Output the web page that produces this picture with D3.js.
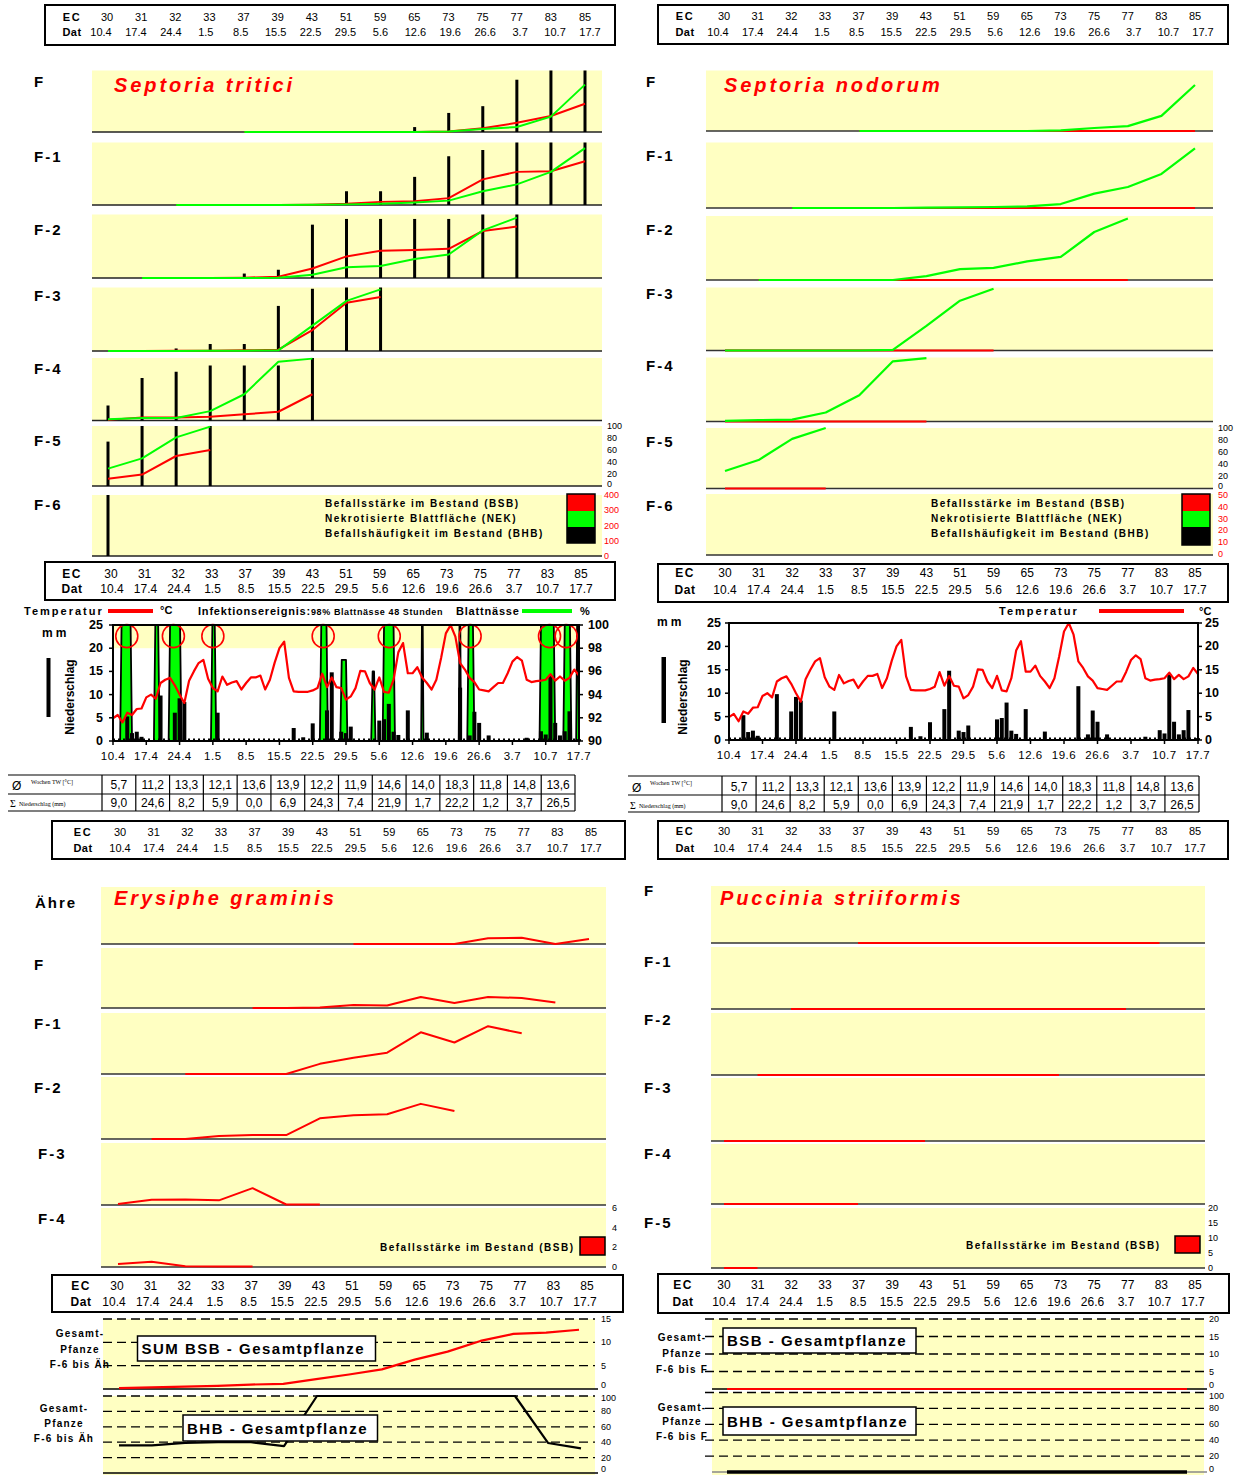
<!DOCTYPE html>
<html><head><meta charset="utf-8">
<script src="https://cdn.jsdelivr.net/npm/d3@7"></script>
<style>body{margin:0;background:#fff}</style>
</head><body>
<script>
// ================= DATA =================
const ecCodes = ["30","31","32","33","37","39","43","51","59","65","73","75","77","83","85"];
const ecDates = ["10.4","17.4","24.4","1.5","8.5","15.5","22.5","29.5","5.6","12.6","19.6","26.6","3.7","10.7","17.7"];
const n = null;

// Septoria tritici: BSB (red), NEK (green), BHB (black bars), % per leaf
const stLeaves = ["F","F-1","F-2","F-3","F-4","F-5","F-6"];
const stBSB = [
  [n,n,n,n,0,0,0,0,0,0,1,6,15,26,46],
  [n,n,0,0,0,0,0.5,2,5,6,11,41,53,54,70],
  [n,0,0,0,0.5,2,15,34,43,44,46,74,81,n,n],
  [0,0,0.5,0.5,1,2,33,76,85,n,n,n,n,n,n],
  [1,5,5,6,10,14,42,n,n,n,n,n,n,n,n],
  [12,19,50,60,n,n,n,n,n,n,n,n,n,n,n],
  [0,n,n,n,n,n,n,n,n,n,n,n,n,n,n]
];
const stNEK = [
  [n,n,n,n,0,0,0,0,0,0,1,5,8,25,77],
  [n,n,0,0,0,0,0.5,1,2,4,7,22,33,53,91],
  [n,0,0,0,0,0.5,5,17,19,30,37,75,95,n,n],
  [0,0,0,0.5,0.5,1,40,79,97,n,n,n,n,n,n],
  [2,4,4,15,42,94,99,n,n,n,n,n,n,n,n],
  [29,46,81,99,n,n,n,n,n,n,n,n,n,n,n],
  [0,n,n,n,n,n,n,n,n,n,n,n,n,n,n]
];
const stBHB = [
  [n,n,n,n,0,0,0,0,0,8,31,42,85,100,100],
  [n,n,0,0,0,0,0,22,22,45,78,88,100,100,100],
  [n,0,0,0,7,13,84,93,93,93,93,100,100,n,n],
  [0,0,4,11,11,71,98,100,100,n,n,n,n,n,n],
  [24,68,78,88,88,88,100,n,n,n,n,n,n,n,n],
  [74,100,100,100,n,n,n,n,n,n,n,n,n,n,n],
  [100,n,n,n,n,n,n,n,n,n,n,n,n,n,n]
];

// Septoria nodorum
const snLeaves = ["F","F-1","F-2","F-3","F-4","F-5","F-6"];
const snBSB = [
  [n,n,n,n,0,0,0,0,0,0,0,0,0,0,0],
  [n,n,0,0,0,0,0,0,0,0,0,0,0,0,0],
  [n,0,0,0,0,0,0,0,0,0,0,0,0,n,n],
  [0,0,0,0,0,0,0,0,0,n,n,n,n,n,n],
  [0,0,0,0,0,0,0,n,n,n,n,n,n,n,n],
  [0,0,0,0,n,n,n,n,n,n,n,n,n,n,n],
  [n,n,n,n,n,n,n,n,n,n,n,n,n,n,n]
];
const snNEK = [
  [n,n,n,n,0,0,0,0,0,0,1,5,8,25,76],
  [n,n,0,0,0,0,0.5,1,1.5,2.5,6,22,32,52,91],
  [n,0,0,0,0,0,6,17,19,29,36,75,96,n,n],
  [0,0,0,0,0,1,39,79,98,n,n,n,n,n,n],
  [1,2,3,14,41,94,99,n,n,n,n,n,n,n,n],
  [29,47,82,100,n,n,n,n,n,n,n,n,n,n,n],
  [n,n,n,n,n,n,n,n,n,n,n,n,n,n,n]
];

// Weather (daily 10.4 - 17.7)
const tempDaily = [4.9,5.6,4.0,6.1,5.6,6.9,7.0,9.4,10.0,9.1,12.5,13.2,13.6,12.0,10.0,8.2,13.0,15.0,16.8,17.5,
  13.4,11.4,10.7,13.9,12.1,12.6,12.9,11.1,12.5,13.7,13.7,14.1,11.1,13.2,16.9,20.0,21.4,13.6,10.7,10.6,
  10.6,10.6,10.9,11.4,14.5,11.6,13.7,11.6,11.4,8.9,9.6,11.4,15.1,15.0,12.5,11.1,13.7,10.6,10.4,13.2,
  19.1,21.1,14.6,14.6,15.9,13.7,12.5,11.1,13.2,17.9,23.2,25.0,22.5,16.8,15.4,13.6,12.7,11.1,10.9,10.7,
  11.6,12.5,12.5,14.6,17.1,18.1,17.3,13.2,12.7,12.9,13.0,13.2,14.4,13.0,13.9,13.0,13.6,15.4,14.1];
const rainDay = [3,4,5,6,10,13,14,15,22,38,40,42,45,46,48,49,50,56,57,58,59,60,62,66,73,75,76,77,79,87,90,91,92,93,94,95,96,98];
const rainMm  = [5.3,1.7,2.0,0.9,9.8,6.1,9.2,8.4,6.1,2.8,0.8,3.8,6.6,14.8,2.0,1.7,3.1,4.4,4.7,8.0,2.0,1.3,6.6,1.8,11.5,1.2,6.3,3.9,1.2,0.7,2.1,1.4,14.0,3.9,1.2,2.1,6.4,0.4];
const wetStart = [1.5,8.6,11.7,20.6,43.5,47.8,54.3,56.7,64.8,72.7,74.5,89.7,94.7,97.4];
const wetEnd   = [4.0,9.8,14.4,21.7,45.2,49.3,55.2,59.3,65.3,73.2,76.0,93.0,96.4,98.0];
const wetPeak  = [100,100,100,100,100,97,96,100,100,100,100,100,100,100];
const infectDays = [2.9,12.7,21.0,44.2,58.1,75.1,91.8,95.3];
const weekTemp = [5.7,11.2,13.3,12.1,13.6,13.9,12.2,11.9,14.6,14.0,18.3,11.8,14.8,13.6];
const weekRain = [9.0,24.6,8.2,5.9,0.0,6.9,24.3,7.4,21.9,1.7,22.2,1.2,3.7,26.5];

// Erysiphe graminis BSB
const egLeaves = ["Ähre","F","F-1","F-2","F-3","F-4"];
const egBSB = [
  [n,n,n,n,n,n,n,0,0,0,0,0.6,0.66,0,0.53],
  [n,n,n,n,0,0,0.05,0.3,0.25,1.1,0.5,1.1,1.0,0.55,n],
  [n,n,0,0,0,0,1.0,1.6,2.1,4.1,3.1,4.7,4.0,n,n],
  [n,0,0,0.3,0.38,0.38,2.0,2.3,2.4,3.4,2.7,n,n,n,n],
  [0.1,0.5,0.54,0.45,1.63,0.05,0.05,n,n,n,n,n,n,n,n],
  [0.3,0.54,0.07,0.05,0.05,n,n,n,n,n,n,n,n,n,n]
];
// Puccinia striiformis BSB
const psLeaves = ["F","F-1","F-2","F-3","F-4","F-5"];
const psBSB = [
  [n,n,n,n,0,0,0,0,0,0,0,0,0,0,n],
  [n,n,0,0,0,0,0,0,0,0,0,0,0,n,n],
  [n,0,0,0,0,0,0,0,0,0,0,n,n,n,n],
  [0,0,0,0,0,0,0,n,n,n,n,n,n,n,n],
  [0,0,0,0,0,n,n,n,n,n,n,n,n,n,n],
  [0,0,n,n,n,n,n,n,n,n,n,n,n,n,n]
];
// Whole plant totals
const egSumBSB = [0.2,0.35,0.5,0.65,0.95,1.1,2.1,3.1,4.2,6.3,8.0,10.3,11.8,12.1,12.7];
const egBHB    = [36,36,39,40,40,35,100,100,100,100,100,100,100,39,32];
const psSumBSB = [0,0,0,0,0,0,0,0,0,0,0,0,0,0,0];
const psBHB    = [0,0,0,0,0,0,0,0,0,0,0,0,0,0,0];

// ================= DRAW =================
const FONT = "'Liberation Sans', Arial, Helvetica, sans-serif";
const SERIF = "'Liberation Serif', 'Times New Roman', serif";
const YEL = "#FFFFC2", RED = "#FF0000", GRN = "#00FF00";
const W = 1239, H = 1475;
const svg = d3.select("body").append("svg").attr("width", W).attr("height", H);
svg.append("rect").attr("width", W).attr("height", H).attr("fill", "#fff");

function T(x, y, s, o = {}) {
  const t = svg.append("text").attr("x", x).attr("y", y).text(s)
    .attr("font-family", o.font || FONT).attr("font-size", o.size || 11)
    .attr("font-weight", o.bold ? "bold" : "normal")
    .attr("fill", o.fill || "#000").attr("text-anchor", o.anchor || "start")
    .attr("dominant-baseline", "central");
  if (o.italic) t.attr("font-style", "italic");
  if (o.ls) t.attr("letter-spacing", o.ls);
  if (o.rotate) t.attr("transform", `rotate(${o.rotate},${x},${y})`);
  return t;
}
function L(x1, y1, x2, y2, c = "#000", w = 1, dash) {
  const l = svg.append("line").attr("x1", x1).attr("y1", y1).attr("x2", x2).attr("y2", y2)
    .attr("stroke", c).attr("stroke-width", w);
  if (dash) l.attr("stroke-dasharray", dash);
  return l;
}
function R(x, y, w, h, fill, stroke, sw) {
  const r = svg.append("rect").attr("x", x).attr("y", y).attr("width", w).attr("height", h)
    .attr("fill", fill || "none");
  if (stroke) r.attr("stroke", stroke).attr("stroke-width", sw || 1);
  return r;
}
function ecTable(box, cr, dr, ry, lx, fs) {
  R(box[0], box[1], box[2] - box[0], box[3] - box[1], "none", "#000", 2);
  const sc = d3.scalePoint().domain(ecCodes).range(cr);
  const sd = d3.scalePoint().domain(ecDates).range(dr);
  T(lx, ry[0], "EC", {bold: true, size: fs, anchor: "middle", ls: 1.5});
  T(lx, ry[1], "Dat", {bold: true, size: fs, anchor: "middle", ls: 0.5});
  ecCodes.forEach(c => T(sc(c), ry[0], c, {size: fs, anchor: "middle"}));
  ecDates.forEach(d => T(sd(d), ry[1], d, {size: fs, anchor: "middle"}));
}
function seriesLine(xs, ys, vals, color, w = 2) {
  const line = d3.line().defined(d => d[1] != null).x(d => xs(d[0])).y(d => ys(d[1]));
  svg.append("path").datum(ecCodes.map((c, i) => [c, vals[i]])).attr("d", line)
    .attr("fill", "none").attr("stroke", color).attr("stroke-width", w).attr("stroke-linejoin", "round");
}
function bars(xs, ys, vals) {
  svg.selectAll(null).data(ecCodes.map((c, i) => [c, vals[i]]).filter(d => d[1] != null && d[1] > 0))
    .enter().append("rect")
    .attr("x", d => xs(d[0]) - 1.5).attr("width", 3)
    .attr("y", d => ys(d[1])).attr("height", d => ys(0) - ys(d[1])).attr("fill", "#000");
}
function title(x, y, s) { T(x, y, s, {bold: true, italic: true, size: 20, fill: RED, ls: 2.9}); }

// ---------- EC tables ----------
ecTable([45, 5, 615, 45], [107, 585], [101, 590], [17, 32], 72, 11);
ecTable([658, 5, 1228, 44], [724, 1195], [718, 1203], [16, 32], 685, 11);
ecTable([45, 562, 615, 600], [111, 581], [112, 581], [574, 589], 72, 12);
ecTable([658, 564, 1228, 602], [725, 1195], [725, 1195], [573, 590], 685, 12);
ecTable([52, 821, 625, 859], [120, 591], [120, 591], [832, 848], 83, 11);
ecTable([658, 821, 1228, 859], [724, 1195], [724, 1195], [831, 848], 685, 11);
ecTable([52, 1275, 623, 1312], [117, 587], [114, 585], [1286, 1302], 81, 12);
ecTable([658, 1274, 1229, 1313], [724, 1195], [724, 1193], [1285, 1302], 683, 12);

// ---------- Septoria tritici ----------
const stPanelY = [[70.5,132],[142.5,205],[214.5,278],[287.5,351],[358,420.5],[426,486],[495,556]];
const stLabelY = [81,156,229,295,368,440,504];
const stX = d3.scalePoint().domain(ecCodes).range([108, 585]);
let stYs = [];
stLeaves.forEach((lf, k) => {
  const [y0, y1] = stPanelY[k];
  R(92, y0, 510, y1 - y0, YEL);
  const ys = d3.scaleLinear().domain([0, 100]).range([y1, y0]);
  stYs.push(ys);
  L(92, y1, 602, y1, "#222", 1.5);
  T(34, stLabelY[k], lf, {bold: true, size: 15, ls: 2});
  bars(stX, ys, stBHB[k]);
  seriesLine(stX, ys, stBSB[k], RED);
  seriesLine(stX, ys, stNEK[k], GRN);
});
title(114, 85, "Septoria tritici");
[0,20,40,60,80,100].forEach(v => T(607, stYs[5](v) - (v === 0 ? 2 : 0), v, {size: 9}));
const stRed = d3.scaleLinear().domain([0, 400]).range([556, 495]);
[0,100,200,300,400].forEach(v => T(604, stRed(v), v, {size: 9, fill: RED}));
const legTxt = ["Befallsstärke im Bestand (BSB)", "Nekrotisierte Blattfläche (NEK)", "Befallshäufigkeit im Bestand (BHB)"];
legTxt.forEach((s, i) => T(325, 503 + i * 15, s, {bold: true, size: 10, ls: 1.5}));
R(567, 494, 28, 17, RED); R(567, 511, 28, 16, GRN); R(567, 527, 28, 16, "#000");
R(567, 494, 28, 49, "none", "#000", 1.5);

// ---------- Septoria nodorum ----------
const snPanelY = [[70.5,131],[142.5,208],[216,280],[287.5,350.5],[357.5,421.5],[428,488.5],[494,555]];
const snLabelY = [81,155,229,293,365,441,505];
const snX = d3.scalePoint().domain(ecCodes).range([725, 1195]);
let snYs = [];
snLeaves.forEach((lf, k) => {
  const [y0, y1] = snPanelY[k];
  R(706, y0, 507, y1 - y0, YEL);
  const ys = d3.scaleLinear().domain([0, 100]).range([y1, y0]);
  snYs.push(ys);
  L(706, y1, 1213, y1, "#333", 1.5);
  T(646, snLabelY[k], lf, {bold: true, size: 15, ls: 2});
  seriesLine(snX, ys, snBSB[k], RED, 2.2);
  seriesLine(snX, ys, snNEK[k], GRN, 2.2);
});
title(724, 85, "Septoria nodorum");
[0,20,40,60,80,100].forEach(v => T(1218, snYs[5](v) - (v === 0 ? 3 : 0), v, {size: 9}));
const snRed = d3.scaleLinear().domain([0, 50]).range([554, 495]);
[0,10,20,30,40,50].forEach(v => T(1218, snRed(v), v, {size: 9, fill: RED}));
legTxt.forEach((s, i) => T(931, 503 + i * 15, s, {bold: true, size: 10, ls: 1.5}));
R(1182, 494, 28, 17, RED); R(1182, 511, 28, 16, GRN); R(1182, 527, 28, 18, "#000");
R(1182, 494, 28, 51, "none", "#000", 1.5);

// ---------- Weather charts ----------
function weather(o) {
  const xd = d3.scaleLinear().domain([0, 98]).range([o.x0, o.x1]);
  const ym = d3.scaleLinear().domain([0, 25]).range([o.y1, o.y0]);
  if (o.wet) {
    R(o.x0, ym(25), o.x1 - o.x0, ym(20) - ym(25), YEL);
    const yw = d3.scaleLinear().domain([90, 100]).range([o.y1, o.y0]);
    wetStart.forEach((s, i) => {
      const e = wetEnd[i], p = wetPeak[i], dd = Math.min(0.3, (e - s) / 3);
      const pts = [[s, 90], [s + dd, p], [e - dd, p], [e, 90]];
      svg.append("polygon").attr("points", pts.map(q => [xd(q[0]), yw(q[1])].join(",")).join(" "))
        .attr("fill", GRN).attr("stroke", "#000").attr("stroke-width", 1.8).attr("stroke-linejoin", "round");
    });
  }
  L(o.x0, o.y1 - 1.5, o.x1, o.y1 - 1.5, "#000", 2, "2,3");
  svg.selectAll(null).data(rainDay).enter().append("rect")
    .attr("x", d => xd(d) - 2).attr("width", 4)
    .attr("y", (d, i) => ym(rainMm[i])).attr("height", (d, i) => o.y1 - ym(rainMm[i])).attr("fill", "#000");
  svg.append("path").datum(tempDaily)
    .attr("d", d3.line().x((d, i) => xd(i)).y(d => ym(d)))
    .attr("fill", "none").attr("stroke", RED).attr("stroke-width", 2.2).attr("stroke-linejoin", "round");
  if (o.wet) {
    svg.selectAll(null).data(infectDays).enter().append("ellipse")
      .attr("cx", d => xd(d)).attr("cy", ym(22.6)).attr("rx", 11).attr("ry", 11.5)
      .attr("fill", "none").attr("stroke", RED).attr("stroke-width", 1.6);
  }
  R(o.x0, o.y0, o.x1 - o.x0, o.y1 - o.y0, "none", "#000", 2);
  [0,5,10,15,20,25].forEach(v => {
    L(o.x0 - 4, ym(v), o.x0, ym(v), "#000", 1.5);
    T(o.x0 - o.lOff, ym(v), v, {bold: true, size: 12.5, anchor: "end"});
  });
  const yr = d3.scaleLinear().domain(o.rDom).range([o.y1, o.y0]);
  o.rTicks.forEach(v => {
    L(o.x1, yr(v), o.x1 + 4, yr(v), "#000", 1.5);
    T(o.x1 + o.rOff, yr(v), v, {bold: true, size: 12.5});
  });
  ecDates.forEach((d, i) => {
    L(xd(i * 7), o.y1, xd(i * 7), o.y1 + 4, "#000", 1.5);
    T(xd(i * 7), o.y1 + 15, d, {size: 11.5, anchor: "middle", ls: 0.5});
  });
}
weather({x0: 113, x1: 579, y0: 625, y1: 741, wet: true, lOff: 10, rOff: 9, rDom: [90, 100], rTicks: [90,92,94,96,98,100]});
weather({x0: 729, x1: 1198, y0: 623, y1: 740, wet: false, lOff: 8, rOff: 7, rDom: [0, 25], rTicks: [0,5,10,15,20,25]});

// weather legends & labels
T(24, 611, "Temperatur", {bold: true, size: 11, ls: 2});
L(108, 611, 153, 611, RED, 4);
T(160, 610, "°C", {bold: true, size: 11});
T(198, 611, "Infektionsereignis:", {bold: true, size: 11, ls: 0.8});
T(311, 612, "98% Blattnässe 48 Stunden", {bold: true, size: 9, ls: 0.6});
T(456, 611, "Blattnässe", {bold: true, size: 11, ls: 0.8});
L(522, 611, 572, 611, GRN, 4);
T(580, 611, "%", {bold: true, size: 11});
T(42, 633, "mm", {bold: true, size: 12, ls: 3});
T(70, 697, "Niederschlag", {bold: true, size: 12, anchor: "middle", rotate: -90});
R(46.5, 658, 4, 59, "#000");

T(999, 611, "Temperatur", {bold: true, size: 11, ls: 2});
L(1099, 611, 1184, 611, RED, 4);
T(1199, 611, "°C", {bold: true, size: 11});
T(657, 622, "mm", {bold: true, size: 12, ls: 3});
T(683, 697, "Niederschlag", {bold: true, size: 12, anchor: "middle", rotate: -90});
R(661.5, 657, 4.5, 66, "#000");

// weekly tables
function weekTable(x0, xc, x1, yt, ymid, yb, r1, r2, sx) {
  L(x0, yt, x1, yt, "#000", 1.2); L(x0, ymid, x1, ymid, "#000", 1.2); L(x0, yb, x1, yb, "#000", 1.2);
  const cw = (x1 - xc) / 14;
  for (let i = 0; i <= 14; i++) L(xc + i * cw, yt, xc + i * cw, yb, "#000", 1.2);
  const fmt = v => v.toFixed(1).replace(".", ",");
  weekTemp.forEach((v, i) => T(xc + (i + 0.5) * cw, r1, fmt(v), {size: 12, anchor: "middle"}));
  weekRain.forEach((v, i) => T(xc + (i + 0.5) * cw, r2, fmt(v), {size: 12, anchor: "middle"}));
  T(x0 + 4, r1 + 1, "Ø", {size: 12});
  T(x0 + sx, yt + 7, "Wochen TW [°C]", {size: 6, font: SERIF});
  T(x0 + 2, r2, "Σ", {size: 10, font: SERIF});
  T(x0 + 11, r2 + 1, "Niederschlag (mm)", {size: 6, font: SERIF});
}
weekTable(8, 102, 575, 775, 794, 811, 785, 803, 23);
weekTable(628, 722, 1199, 776, 795, 812, 787, 805, 22);

// ---------- Erysiphe graminis ----------
const egPanelY = [[887,944],[948,1008],[1013,1074],[1077,1139],[1143,1205],[1208,1267]];
const egLabelY = [902,964,1023,1087,1153,1218];
const egX = d3.scalePoint().domain(ecCodes).range([118, 589]);
let egYs = [];
egLeaves.forEach((lf, k) => {
  const [y0, y1] = egPanelY[k];
  R(101, y0, 505, y1 - y0, YEL);
  const ys = d3.scaleLinear().domain([0, 6]).range([y1, y0]);
  egYs.push(ys);
  L(101, y1, 606, y1, "#333", 1.5);
  T(k === 0 ? 35 : (k >= 4 ? 38 : 34), egLabelY[k], lf, {bold: true, size: 15, ls: 2});
  seriesLine(egX, ys, egBSB[k], RED, 2);
});
title(114, 898, "Erysiphe graminis");
[0,2,4,6].forEach(v => T(612, egYs[5](v), v, {size: 9}));
T(380, 1247, "Befallsstärke im Bestand (BSB)", {bold: true, size: 10, ls: 1.5});
R(580, 1237, 25, 18, RED, "#000", 1.5);

// ---------- Puccinia striiformis ----------
const psPanelY = [[886,943],[947,1009],[1013,1075],[1078,1141],[1144,1204],[1208,1268]];
const psLabelY = [890,961,1019,1087,1153,1222];
const psX = d3.scalePoint().domain(ecCodes).range([724, 1193]);
let psYs = [];
psLeaves.forEach((lf, k) => {
  const [y0, y1] = psPanelY[k];
  R(711, y0, 494, y1 - y0, YEL);
  const ys = d3.scaleLinear().domain([0, 20]).range([y1, y0]);
  psYs.push(ys);
  L(711, y1, 1205, y1, "#333", 1.5);
  T(644, psLabelY[k], lf, {bold: true, size: 15, ls: 2});
  seriesLine(psX, ys, psBSB[k], RED, 2);
});
title(720, 898, "Puccinia striiformis");
[0,5,10,15,20].forEach(v => T(1208, psYs[5](v), v, {size: 9}));
T(966, 1245, "Befallsstärke im Bestand (BSB)", {bold: true, size: 10, ls: 1.5});
R(1175, 1236, 25, 17, RED, "#000", 1.5);

// ---------- Whole-plant totals ----------
function totPanel(o) {
  R(o.x0, o.y0, o.x1 - o.x0, o.bgB - o.y0, YEL);
  const ys = d3.scaleLinear().domain([0, o.max]).range([o.y1, o.y0]);
  o.dash.forEach(v => L(o.dx0, ys(v), o.x1, ys(v), "#000", 1.3, "9,5"));
  L(o.x0, o.y1, o.x1 + 3, o.y1, o.baseC || "#000", 1.5);
  const shift = o.tickShift || {};
  o.ticks.forEach(v => T(o.ax, ys(v) + (shift[v] || 0), v, {size: 9}));
  const xs = d3.scalePoint().domain(ecCodes).range(o.xr);
  seriesLine(xs, ys, o.vals, o.color, o.w || 2.2);
  R(o.box[0], o.box[1], o.box[2] - o.box[0], o.box[3] - o.box[1], "#fff", "#000", 1.5);
  T(o.box[0] + 4, (o.box[1] + o.box[3]) / 2, o.text, {bold: true, size: 15, ls: 1.5});
  o.lab.forEach((s, i) => T(o.lx, o.ly[i], s, {bold: true, size: 10, ls: 1.2, anchor: "middle"}));
}
totPanel({x0: 103, x1: 595, y0: 1319, y1: 1389, bgB: 1389, max: 15, dx0: 103, dash: [5,10,15], ticks: [0,5,10,15], ax: 601,
  tickShift: {0: -4}, xr: [119, 579], vals: egSumBSB, color: RED, box: [137.5, 1336, 375.5, 1361], text: "SUM BSB - Gesamtpflanze",
  lab: ["Gesamt-", "Pfanze", "F-6 bis Äh"], lx: 80, ly: [1333, 1349, 1364]});
totPanel({x0: 103, x1: 595, y0: 1396, y1: 1473, bgB: 1475, max: 100, dx0: 103, dash: [20,40,60,80,100], ticks: [0,20,40,60,80,100], ax: 601,
  tickShift: {0: -4, 100: 2}, xr: [119, 581], vals: egBHB, color: "#000", box: [183, 1415, 377.5, 1441], text: "BHB - Gesamtpflanze",
  lab: ["Gesamt-", "Pfanze", "F-6 bis Äh"], lx: 64, ly: [1408, 1423, 1438]});
totPanel({x0: 712, x1: 1204, y0: 1319, y1: 1389, bgB: 1390, max: 20, dx0: 705, dash: [5,10,15,20], ticks: [0,5,10,15,20], ax: 1209,
  tickShift: {0: -4}, xr: [727, 1187], vals: psSumBSB, color: RED, box: [723, 1328, 916, 1353], text: "BSB - Gesamtpflanze",
  lab: ["Gesamt-", "Pfanze", "F-6 bis F"], lx: 682, ly: [1337, 1353, 1369]});
totPanel({x0: 712, x1: 1204, y0: 1392.5, y1: 1472, bgB: 1475, max: 100, dx0: 705, dash: [20,40,60,80,100], ticks: [0,20,40,60,80,100], ax: 1209,
  tickShift: {0: -3, 100: 3}, xr: [727, 1187], vals: psBHB, color: "#000", w: 3.5, baseC: "#888", box: [723, 1407, 916, 1435], text: "BHB - Gesamtpflanze",
  lab: ["Gesamt-", "Pfanze", "F-6 bis F"], lx: 682, ly: [1407, 1421, 1436]});
</script>
</body></html>
